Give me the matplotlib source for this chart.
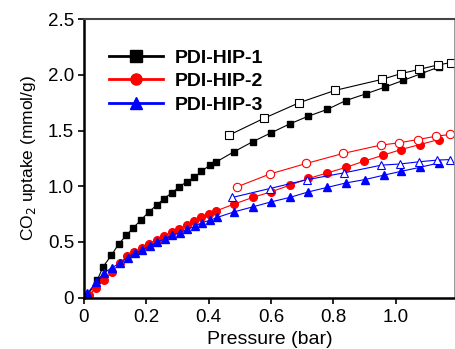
import matplotlib

matplotlib.use("Agg")
import matplotlib.pyplot as plt
from matplotlib.lines import Line2D

plt.rcParams["font.family"] = ["Liberation Sans", "DejaVu Sans"]

# PDI-HIP-1 (adsorption, filled)
p1_ads = [0.009, 0.043, 0.062, 0.088, 0.111, 0.136, 0.159, 0.184, 0.208, 0.233,
          0.257, 0.281, 0.304, 0.329, 0.354, 0.377, 0.404, 0.425, 0.481, 0.541,
          0.60, 0.66, 0.72, 0.78, 0.84, 0.904, 0.965, 1.023, 1.08, 1.137]
q1_ads = [0.007, 0.16, 0.28, 0.38, 0.48, 0.56, 0.63, 0.70, 0.77, 0.83,
          0.89, 0.94, 0.99, 1.04, 1.08, 1.135, 1.19, 1.22, 1.31, 1.40,
          1.48, 1.56, 1.63, 1.69, 1.77, 1.83, 1.89, 1.95, 2.01, 2.07]
# PDI-HIP-1 (desorption, open)
p1_des = [0.466, 0.577, 0.69, 0.804, 0.956, 1.015, 1.075, 1.136, 1.176]
q1_des = [1.46, 1.61, 1.75, 1.86, 1.96, 2.01, 2.05, 2.09, 2.11]

# PDI-HIP-2
p2_ads = [0.017, 0.038, 0.064, 0.09, 0.115, 0.139, 0.162, 0.186, 0.209, 0.234,
          0.257, 0.282, 0.306, 0.329, 0.354, 0.377, 0.402, 0.425, 0.481, 0.541,
          0.60, 0.66, 0.72, 0.78, 0.84, 0.898, 0.96, 1.017, 1.077, 1.138]
q2_ads = [0.02, 0.09, 0.16, 0.23, 0.31, 0.37, 0.41, 0.45, 0.48, 0.52,
          0.555, 0.59, 0.62, 0.65, 0.69, 0.72, 0.75, 0.78, 0.84, 0.90,
          0.95, 1.01, 1.07, 1.12, 1.17, 1.225, 1.28, 1.33, 1.375, 1.42]
p2_des = [0.491, 0.596, 0.713, 0.831, 0.952, 1.01, 1.071, 1.13, 1.175]
q2_des = [0.995, 1.11, 1.205, 1.295, 1.37, 1.39, 1.42, 1.45, 1.465]

# PDI-HIP-3
p3_ads = [0.011, 0.04, 0.064, 0.09, 0.115, 0.14, 0.163, 0.187, 0.212, 0.235,
          0.26, 0.283, 0.308, 0.331, 0.356, 0.379, 0.404, 0.427, 0.481, 0.541,
          0.60, 0.66, 0.72, 0.78, 0.84, 0.90, 0.962, 1.018, 1.077, 1.138]
q3_ads = [0.04, 0.14, 0.22, 0.27, 0.31, 0.36, 0.40, 0.43, 0.465, 0.50,
          0.53, 0.56, 0.585, 0.615, 0.64, 0.675, 0.695, 0.72, 0.77, 0.815,
          0.86, 0.90, 0.95, 0.99, 1.03, 1.06, 1.10, 1.135, 1.17, 1.21]
p3_des = [0.476, 0.596, 0.716, 0.833, 0.954, 1.013, 1.074, 1.132, 1.175]
q3_des = [0.90, 0.98, 1.06, 1.12, 1.19, 1.20, 1.22, 1.235, 1.24]

labels = ["PDI-HIP-1", "PDI-HIP-2", "PDI-HIP-3"]
colors = ["black", "red", "blue"]
markers = ["s", "o", "^"]

fig = plt.figure(figsize=(4.56, 3.49), dpi=100)
ax = fig.add_axes([0.184, 0.147, 0.814, 0.798])

series = [(p1_ads, q1_ads, p1_des, q1_des),
          (p2_ads, q2_ads, p2_des, q2_des),
          (p3_ads, q3_ads, p3_des, q3_des)]
sizes = [5, 5.5, 5.5]
for (pa, qa, pd, qd), c, m, ms in zip(series, colors, markers, sizes):
    ax.plot(pa, qa, color=c, marker=m, ms=ms, lw=0.8, mfc=c, mec=c)
    ax.plot(pd, qd, color=c, marker=m, ms=ms + 0.5, lw=0.8, mfc="white", mec=c,
            mew=0.8)

ax.set_xlim(0, 1.19)
ax.set_ylim(0, 2.5)
ax.set_xticks([0, 0.2, 0.4, 0.6, 0.8, 1.0])
ax.set_xticklabels(["0", "0.2", "0.4", "0.6", "0.8", "1.0"])
ax.set_yticks([0, 0.5, 1.0, 1.5, 2.0, 2.5])
ax.set_yticklabels(["0", "0.5", "1.0", "1.5", "2.0", "2.5"])
ax.tick_params(direction="out", length=4, width=1.2, labelsize=13.5, pad=3)
ax.tick_params(axis="x", top=False, pad=4)
ax.tick_params(axis="y", right=False)
ax.set_xlabel("Pressure (bar)", fontsize=14, labelpad=4)
ax.set_ylabel("CO$_2$ uptake (mmol/g)", fontsize=12.5, labelpad=7)

for side in ["left", "bottom"]:
    ax.spines[side].set_linewidth(1.8)
    ax.spines[side].set_color("black")
ax.spines["top"].set_linewidth(1.5)
ax.spines["top"].set_color("#444444")
ax.spines["right"].set_linewidth(1.2)
ax.spines["right"].set_color("#888888")

handles = [Line2D([], [], color=c, marker=m, ms=8, lw=2) for c, m in zip(colors, markers)]
leg = ax.legend(handles, labels, loc="upper left", bbox_to_anchor=(0.02, 0.955),
                frameon=False, handlelength=2.8, handletextpad=0.6,
                labelspacing=0.3, prop={"weight": "bold", "size": 14})

fig.savefig("out.png", dpi=100)
